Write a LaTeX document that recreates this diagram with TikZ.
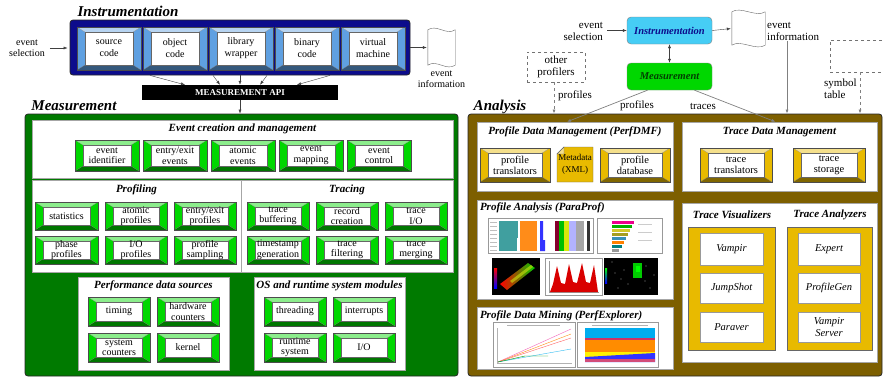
\documentclass[tikz,border=0pt]{standalone}
\usepackage{fontspec}
\setmainfont{Liberation Serif}
\usepackage{tikz}
\usetikzlibrary{calc,positioning,arrows.meta}

\definecolor{instnavy}{RGB}{12,12,140}
\definecolor{instblue}{RGB}{95,160,225}
\definecolor{measgreen}{RGB}{0,122,0}
\definecolor{btngreen}{RGB}{0,215,0}
\definecolor{anabrown}{RGB}{125,95,0}
\definecolor{btngold}{RGB}{232,186,0}
\definecolor{flowcyan}{RGB}{70,205,245}

\tikzset{
	% Raised buttons: a coloured bevel round a white face
	bevel/.style={draw=black!70, fill=#1, align=center, inner sep=0pt,
		path picture={
			\path (path picture bounding box.south west) coordinate (ppbl)
				(path picture bounding box.north east) coordinate (pptr);
			\path ($(ppbl)+(8pt,5pt)$) coordinate (ppibl)
				($(pptr)+(-8pt,-5pt)$) coordinate (ppitr);
			\fill[#1!45!white] (ppbl|-pptr) -- (pptr) -- (ppitr) -- (ppibl|-ppitr) -- cycle;
			\fill[#1!55!black] (ppbl) -- (pptr|-ppbl) -- (ppitr|-ppibl) -- (ppibl) -- cycle;
			\draw[black!45, very thin] (ppbl) -- (ppibl) (ppbl|-pptr) -- (ppibl|-ppitr)
				(pptr) -- (ppitr) (pptr|-ppbl) -- (ppitr|-ppibl);
			\draw[black!60, fill=white] (ppibl) rectangle (ppitr);
		}},
	bluebtn/.style={bevel=instblue, font=\fontsize{10}{12}\selectfont},
	greenbtn/.style={bevel=btngreen, font=\fontsize{10}{10.5}\selectfont},
	goldbtn/.style={bevel=btngold, font=\fontsize{10.5}{11}\selectfont},
	% Frames, panels and their headings
	frame/.style={draw=black!85, line width=0.8pt, rounded corners=3pt},
	panel/.style={draw=black!35, fill=white},
	toolbox/.style={draw=black!40, fill=white, font=\fontsize{10.5}{12}\selectfont\itshape, align=center},
	bigtitle/.style={font=\fontsize{15}{15}\selectfont\bfseries\itshape, inner sep=0pt},
	paneltitle/.style={font=\fontsize{11}{11}\selectfont\bfseries\itshape, inner sep=0pt},
	lbl/.style={font=\fontsize{10}{11}\selectfont, align=center, inner sep=1pt},
	rlbl/.style={font=\fontsize{11}{12}\selectfont, align=center, inner sep=1pt},
	flowbox/.style={draw=black!50, rounded corners=4pt, font=\fontsize{10.5}{11}\selectfont\bfseries\itshape},
	% Connectors
	arr/.style={-{Latex[length=4pt,width=3pt]}, black!75, thin},
	flowarr/.style={-{Latex[length=4pt,width=3pt]}, black!50, line width=0.7pt}
}

\begin{document}
\begin{tikzpicture}[x=1pt,y=-1pt]
	% macro for boxes given by two opposite corners: \cbox[style]{name}{x1,y1}{x2,y2}{text}
	\def\cboxread#1,#2,#3,#4\relax{\def\cbxa{#1}\def\cbya{#2}\def\cbxb{#3}\def\cbyb{#4}}
	\newcommand{\cbox}[5][]{\cboxread#3,#4\relax
		\node[#1, inner sep=0pt, minimum width={(\cbxb-\cbxa)*1pt}, minimum height={(\cbyb-\cbya)*1pt}]
			(#2) at ({(\cbxa+\cbxb)/2},{(\cbya+\cbyb)/2}) {#5};}
	% macro for the wavy sheet of event data
	\newcommand{\sheet}[1]{\draw[black!60, fill=white] (#1.north west)
		.. controls ([shift={(9pt,6pt)}]#1.north west) and ([shift={(-9pt,-6pt)}]#1.north east) .. (#1.north east)
		-- (#1.south east)
		.. controls ([shift={(-9pt,-6pt)}]#1.south east) and ([shift={(9pt,6pt)}]#1.south west) .. (#1.south west)
		-- cycle;}

	\useasboundingbox (0,0) rectangle (884,378);

	%%%%% Instrumentation
	\node[bigtitle] (insttitle) at (128,11) {Instrumentation};
	\cbox[frame, fill=instnavy]{instframe}{70,20}{410,75}{}
	\cbox[bluebtn]{src}{77,27}{141,70}{source\\code}
	\cbox[bluebtn]{obj}{143,27}{207,70}{object\\code}
	\cbox[bluebtn]{lib}{209,27}{273,70}{library\\wrapper}
	\cbox[bluebtn]{bin}{275,27}{339,70}{binary\\code}
	\cbox[bluebtn]{vm}{341,27}{405,70}{virtual\\machine}

	\node[lbl] (evsel) at (27,48) {event\\selection};
	\draw[arr, shorten <=4pt, shorten >=2pt] (evsel.east) -- (evsel.east -| instframe.west);

	\node[minimum width=27pt, minimum height=35pt, inner sep=0pt] (sheetL) at (441.5,47.5) {};
	\sheet{sheetL}
	\draw[arr, shorten >=1pt] (instframe.east) -- (sheetL.west);
	\node[lbl, below=4pt of sheetL] (evinfoL) {event\\information};

	\cbox[fill=black, text=white, font=\fontsize{9}{9}\selectfont\bfseries]{api}{142,85}{338,100}{MEASUREMENT API}
	\foreach \s/\t in {-90/-55,-27/-20,0/0,27/20,90/57}
		\draw[arr] ([xshift=\s pt]instframe.south) -- ([xshift=\t pt]api.north);

	%%%%% Measurement
	\node[bigtitle] (meastitle) at (74,106) {Measurement};
	\cbox[frame, fill=measgreen]{measframe}{25,114}{458,376}{}
	\draw[arr] (api.south) -- (api.south |- measframe.north);

	\cbox[panel]{ecm}{32,120}{453,178}{}
	\node[paneltitle, below=4pt of ecm.north] (ecmtitle) {Event creation and management};
	\cbox[greenbtn]{evid}{75,140}{139,171}{event\\identifier}
	\cbox[greenbtn]{evee}{143,140}{207,171}{entry/exit\\events}
	\cbox[greenbtn]{evat}{211,140}{275,171}{atomic\\events}
	\cbox[greenbtn]{evmap}{279,140}{343,171}{event\\mapping}
	\cbox[greenbtn]{evctl}{347,140}{411,171}{event\\control}

	\cbox[panel]{prof}{32,180}{241,272}{}
	\node[paneltitle, below=5pt of prof.north] (proftitle) {Profiling};
	\cbox[greenbtn]{stat}{35,202}{98,230}{statistics}
	\cbox[greenbtn]{atprof}{105,202}{167,230}{atomic\\profiles}
	\cbox[greenbtn]{eeprof}{174,202}{236,230}{entry/exit\\profiles}
	\cbox[greenbtn]{phprof}{35,236}{98,264}{phase\\profiles}
	\cbox[greenbtn]{ioprof}{105,236}{167,264}{I/O\\profiles}
	\cbox[greenbtn]{psamp}{174,236}{236,264}{profile\\sampling}

	\cbox[panel]{trac}{241,180}{453,272}{}
	\node[paneltitle, below=5pt of trac.north] (tractitle) {Tracing};
	\cbox[greenbtn]{trbuf}{247,202}{309,230}{trace\\buffering}
	\cbox[greenbtn]{reccr}{316,202}{378,230}{record\\creation}
	\cbox[greenbtn]{trio}{385,202}{447,230}{trace\\I/O}
	\cbox[greenbtn]{tsgen}{247,236}{309,264}{timestamp\\generation}
	\cbox[greenbtn]{trfilt}{316,236}{378,264}{trace\\filtering}
	\cbox[greenbtn]{trmerge}{385,236}{447,264}{trace\\merging}

	\cbox[panel]{pds}{78,277}{229,370}{}
	\node[paneltitle, below=4pt of pds.north] (pdstitle) {Performance data sources};
	\cbox[greenbtn]{timing}{88,297}{150,326}{timing}
	\cbox[greenbtn]{hwc}{157,297}{219,326}{hardware\\counters}
	\cbox[greenbtn]{sysc}{88,333}{150,362}{system\\counters}
	\cbox[greenbtn]{kernel}{157,333}{219,362}{kernel}

	\cbox[panel]{osrt}{254,277}{405,370}{}
	\node[paneltitle, below=4pt of osrt.north] (osrttitle) {OS and runtime system modules};
	\cbox[greenbtn]{thread}{264,297}{326,326}{threading}
	\cbox[greenbtn]{intr}{333,297}{395,326}{interrupts}
	\cbox[greenbtn]{rtsys}{264,333}{326,362}{runtime\\system}
	\cbox[greenbtn]{osio}{333,333}{395,362}{I/O}

	%%%%% Tool flow
	\cbox[flowbox, fill=flowcyan, text=instnavy]{rinst}{627,17}{712,44}{Instrumentation}
	\cbox[flowbox, fill=btngreen, text=black!75!green]{rmeas}{627,63}{712,90}{Measurement}
	\draw[arr, {Latex[length=4pt,width=3pt]}-{Latex[length=4pt,width=3pt]}] (rinst) -- (rmeas);

	\node[rlbl, align=right, anchor=east] (revsel) at (604,31) {event\\selection};
	\draw[arr, shorten <=3pt] (revsel.east |- rinst.west) -- (rinst.west);
	\node[minimum width=33pt, minimum height=33pt, inner sep=0pt] (sheetR) at (748.5,28.5) {};
	\sheet{sheetR}
	\draw[arr, shorten >=1pt] (rinst.east) -- (sheetR.west);
	\node[rlbl, align=left, anchor=west] (revinfo) at (766,31) {event\\information};

	\cbox[dashed, draw=black!55, rlbl, inner sep=0pt]{othp}{527,52}{585,82}{other\\profilers}
	\node[rlbl, anchor=west] (othlbl) at (557,96) {profiles};
	\cbox[dashed, draw=black!55]{symt}{830,40}{900,72}{}
	\node[rlbl, align=left, anchor=west] (symlbl) at (823,89) {symbol\\table};
	\node[rlbl] (proflbl) at (637,106) {profiles};
	\node[rlbl] (trlbl) at (703,106) {traces};

	%%%%% Analysis
	\node[bigtitle] (anatitle) at (500,107) {Analysis};
	\cbox[frame, fill=anabrown]{anaframe}{468,114}{882,376}{}

	\cbox[panel]{dmf}{477,122}{673,191}{}
	\node[paneltitle, below=5pt of dmf.north] (dmftitle) {Profile Data Management (PerfDMF)};
	\cbox[goldbtn]{protr}{480,148}{550,182}{profile\\translators}
	\cbox[goldbtn]{profdb}{600,148}{670,182}{profile\\database}
	\path (557,147) coordinate (md-a) (593,182) coordinate (md-b);
	\filldraw[fill=btngold, draw=black!60] ($(md-a)+(7pt,0pt)$) -- (md-a -| md-b) -- (md-b)
		-- (md-a |- md-b) -- ($(md-a)+(0pt,-7pt)$) -- cycle;
	\filldraw[fill=btngold!45!white, draw=black!60] ($(md-a)+(7pt,0pt)$) -- ($(md-a)+(7pt,-7pt)$)
		-- ($(md-a)+(0pt,-7pt)$) -- cycle;
	\node[inner sep=0pt, align=center, font=\fontsize{9}{12}\selectfont] (mdata) at ($(md-a)!0.5!(md-b)$) {Metadata\\(XML)};

	\cbox[panel]{tdm}{682,122}{877,191}{}
	\node[paneltitle, below=5pt of tdm.north] (tdmtitle) {Trace Data Management};
	\cbox[goldbtn]{trtr}{700,148}{772,182}{trace\\translators}
	\cbox[goldbtn]{trst}{793,148}{865,182}{trace\\storage}

	\cbox[panel]{pa}{477,200}{673,299}{}
	\node[paneltitle, anchor=north west] (patitle) at ([shift={(3pt,-3pt)}]pa.north west) {Profile Analysis (ParaProf)};
	\cbox[panel]{pdm}{477,307}{673,369}{}
	\node[paneltitle, anchor=north west] (pdmtitle) at ([shift={(3pt,-4pt)}]pdm.north west) {Profile Data Mining (PerfExplorer)};

	\cbox[panel]{tvp}{682,203}{877,362}{}
	\node[paneltitle] (tvtitle) at (732,215) {Trace Visualizers};
	\node[paneltitle] (tatitle) at (830,215) {Trace Analyzers};
	\cbox[draw=black!60, fill=btngold]{tvbox}{688,227}{775,350}{}
	\cbox[draw=black!60, fill=btngold]{tabox}{787,227}{872,350}{}
	\cbox[toolbox]{vampir}{700,233}{763,265}{Vampir}
	\cbox[toolbox]{jumpshot}{700,273}{763,303}{JumpShot}
	\cbox[toolbox]{paraver}{700,312}{763,342}{Paraver}
	\cbox[toolbox]{expert}{798,233}{860,265}{Expert}
	\cbox[toolbox]{profgen}{798,273}{860,303}{ProfileGen}
	\cbox[toolbox]{vserver}{798,312}{860,342}{Vampir\\Server}

	% flow into the analysis tools
	\draw[flowarr] ([xshift=-22pt]rmeas.south) -- ([xshift=-8pt]dmf.north);
	\draw[flowarr] ([xshift=25pt]rmeas.south) -- ([xshift=-4pt]tdm.north);
	\coordinate (othend) at ([xshift=-2pt]othp.south);
	\draw[flowarr, dashed] (othend) -- (othend |- anaframe.north);
	\coordinate (evline) at ([xshift=21pt]revinfo.south west);
	\draw[flowarr] (evline) -- (evline |- anaframe.north);
	\coordinate (symend) at ([xshift=-5pt]symt.south);
	\draw[flowarr, dashed] (symend) -- (symend |- anaframe.north);

	%%%%% ParaProf screenshots
	\draw[black!40, fill=white] (488,218) rectangle (593,253);
	\foreach \y in {222,226,...,250} \draw[black!25] (490,\y) -- (497,\y);
	\fill[teal!75] (499,221) rectangle (518,251);
	\fill[orange!90] (520,221) rectangle (537,251);
	\fill[white] (517,238) rectangle (520,251);
	\fill[blue!80] (540,221) rectangle (543,240) (540,240) rectangle (545,251);
	\fill[purple!70!black] (555,221) rectangle (559,251);
	\fill[green!75!black] (559,221) rectangle (564,251);
	\fill[yellow!85!green] (564,221) rectangle (569,251);
	\fill[blue!30] (569,221) rectangle (576,251);
	\fill[black!35] (576,221) rectangle (584,251);
	\fill[black!80] (587,221) rectangle (590,251);

	\draw[black!40, fill=white] (597,218) rectangle (662,253);
	\foreach \i/\c/\l in {0/magenta/22,1/green!70!black/20,2/yellow!80!black/18,3/olive!80/16,
		4/cyan!70!black/14,5/orange/12,6/teal/10,7/black!40/7}
		\fill[\c] (612,{221+\i*4}) rectangle ({612+\l},{224+\i*4});
	\foreach \y in {224,232,240} \draw[black!20] (638,\y) -- (652,\y);

	\fill[black] (492,258) rectangle (540,295);
	\shade[top color=red, bottom color=blue] (494,268) rectangle (497,288);
	\shade[left color=red, right color=green!80!black] (500,284) -- (528,263) -- (535,268) -- (507,290) -- cycle;
	\fill[yellow!80!green, opacity=0.6] (510,281) -- (531,265) -- (533,267) -- (512,283) -- cycle;

	\draw[black!40, fill=white] (545,258) rectangle (602,295);
	\draw[black!40] (549,261) -- (549,292) -- (599,292);
	\fill[red!85!black] (550,292) -- (553,284) -- (557,266) -- (561,283) -- (565,284) -- (569,264)
		-- (573,282) -- (577,283) -- (582,263) -- (586,282) -- (590,283) -- (594,265) -- (598,292) -- cycle;

	\fill[black] (604,258) rectangle (658,295);
	\shade[top color=green, bottom color=blue] (605,268) rectangle (607,283);
	\fill[green!80!black] (633,263) rectangle (642,278);
	\fill[green] (636,266) rectangle (640,272);
	\foreach \px/\py in {612/262,618/288,624/270,628/284,646/266,650/288,654/275,621/279,645/281,615/273}
		\fill[black!45] (\px,\py) circle (0.6pt);

	%%%%% PerfExplorer screenshots
	\draw[black!40, fill=white] (493,322) rectangle (575,367);
	\draw[black!30] (507,325) -- (560,325) (497,328) -- (497,363) -- (572,363);
	\draw[magenta!60] (498,362) -- (571,329);
	\draw[orange!90] (498,362) -- (571,334);
	\draw[red!60] (498,362) -- (571,338);
	\draw[cyan!80] (498,362) -- (571,349);
	\draw[green!60!black] (498,362) -- (525,356) -- (548,356);

	\draw[black!40, fill=white] (577,322) rectangle (658,367);
	\draw[black!30] (592,325) -- (648,325);
	\fill[cyan] (585,328) rectangle (655,338);
	\fill[purple!80] (585,338) rectangle (655,340);
	\fill[orange!90!yellow] (585,340) rectangle (655,352);
	\fill[yellow] (585,352) rectangle (655,357);
	\fill[blue!80] (585,357) -- (655,353) -- (655,362) -- (585,362) -- cycle;
	\fill[purple!70] (585,359) rectangle (655,362);
\end{tikzpicture}
\end{document}
